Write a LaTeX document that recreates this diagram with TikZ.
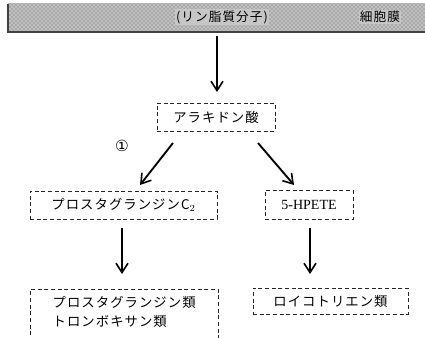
\documentclass[tikz,border=0pt]{standalone}
\usepackage{fontspec}
\newfontfamily\jp[LetterSpace=8]{Noto Sans CJK JP}
\newfontfamily\symfont{DejaVu Sans}
\setmainfont{Liberation Serif}
\usetikzlibrary{arrows.meta,patterns}
\begin{document}
\begin{tikzpicture}[x=0.75pt,y=-0.75pt,
  box/.style={draw=black!85,densely dashed,line width=0.7pt,inner sep=0pt,font=\jp\fontsize{10}{12}\selectfont},
  flow/.style={line width=1.4pt,-{Straight Barb[length=7pt,width=9pt,line width=1.2pt]}},
  bandtext/.style={font=\jp\fontsize{9.5}{11}\selectfont,text=black,fill=gray!45,inner sep=1pt}]
\useasboundingbox (0,0) rectangle (425,337);
% membrane band
\fill[gray!50] (8,3) rectangle (425,32);
\fill[pattern=crosshatch dots,pattern color=black!60] (8,3) rectangle (425,32);
\draw[black!75,line width=0.9pt] (8,4) -- (8,32) -- (425,32);
\node[bandtext] (lip) at (222,17) {(リン脂質分子)};
\node[bandtext] (cell) at (380,17) {細胞膜};
\coordinate (top) at (217,36);
\coordinate (topend) at (217,92);
% nodes
\node[box,minimum width=118*0.75pt,minimum height=28*0.75pt] (ara) at (216,117) {アラキドン酸};
\node[font=\symfont\fontsize{11.5}{12}\selectfont] (one) at (122,146) {①};
\node[box,minimum width=187*0.75pt,minimum height=28*0.75pt] (pgg) at (123.5,205) {プロスタグランジンC{\normalfont$_2$}};
\node[box,minimum width=88*0.75pt,minimum height=29*0.75pt,font=\fontsize{10.5}{12}\selectfont] (hpete) at (309,205) {5-HPETE};
\node[box,minimum width=188*0.75pt,minimum height=62*0.75pt,anchor=north west] (pg) at (30,289) {};
\node[font=\jp\fontsize{10}{12}\selectfont,anchor=west] (pgt) at (48,302) {プロスタグランジン類};
\node[font=\jp\fontsize{10}{12}\selectfont,anchor=west] (txt) at (48,321) {トロンボキサン類};
\node[box,minimum width=155*0.75pt,minimum height=26*0.75pt] (lt) at (330.5,301) {ロイコトリエン類};
% connectors
\draw[flow] (top) -- (topend);
\draw[flow] (173,143) -- (140,185);
\draw[flow] (258,143) -- (294,185);
\draw[flow] (122,228) -- (122,274);
\draw[flow] (310,228) -- (310,274);
\end{tikzpicture}
\end{document}
